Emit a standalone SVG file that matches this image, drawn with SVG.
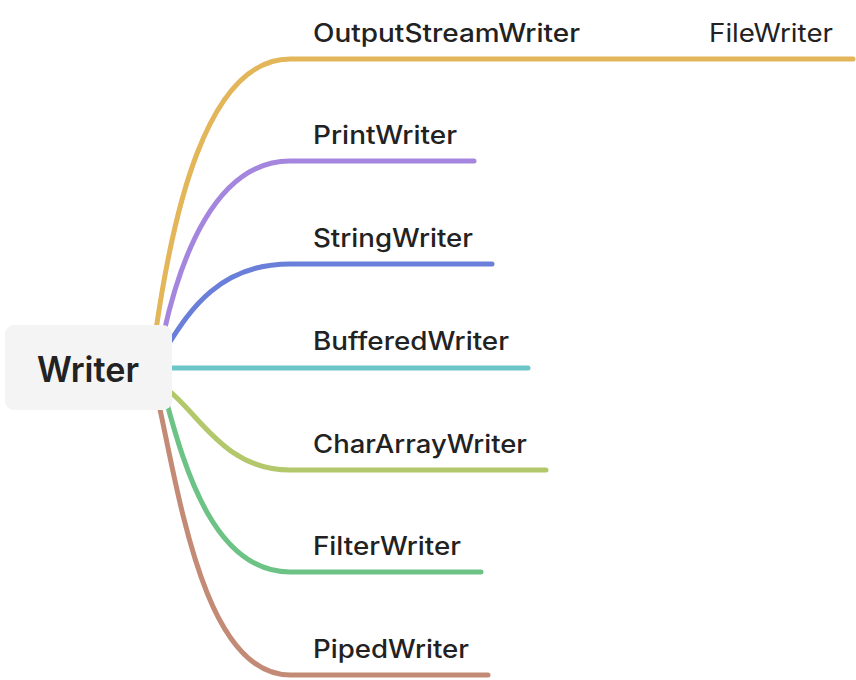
<svg xmlns="http://www.w3.org/2000/svg" width="856" height="680" viewBox="0 0 856 680">
<style>
.c{fill:none;stroke-width:5;stroke-linecap:round}
.t{font-family:Inter,"Liberation Sans","Noto Sans",sans-serif;font-size:25px;font-weight:500;fill:#222}
.f{font-family:Inter,"Liberation Sans","Noto Sans",sans-serif;font-size:25px;font-weight:400;fill:#222}
.r{font-family:Inter,"Liberation Sans","Noto Sans",sans-serif;font-size:35px;font-weight:600;fill:#222}
</style>
<rect width="856" height="680" fill="#fff"/>
<g id="connectors">
<path class="c" stroke="#e2b659" d="M156 330 C172 220 205 59 290 59 L853 59"/>
<path class="c" stroke="#a586df" d="M164 332 C180 260 215 161 290 161 L474 161"/>
<path class="c" stroke="#6a7fd9" d="M168 345 C190 310 220 264 290 264 L492 264"/>
<path class="c" stroke="#6cc6c9" d="M165 368 L528 368"/>
<path class="c" stroke="#b2c86b" d="M168 390 C200 415 225 470 290 470 L546 470"/>
<path class="c" stroke="#6dc285" d="M166 400 C185 470 215 572 290 572 L481 572"/>
<path class="c" stroke="#c38a76" d="M158 400 C180 500 205 675 290 675 L488 675"/>
</g>
<g id="root">
<rect x="5" y="325" width="167" height="85" rx="9" fill="#f4f4f4"/>
<text class="r" x="88" y="382" text-anchor="middle" textLength="102" lengthAdjust="spacingAndGlyphs">Writer</text>
</g>
<g id="n-outputstreamwriter"><text class="t" x="313" y="42" textLength="267" lengthAdjust="spacingAndGlyphs">OutputStreamWriter</text></g>
<g id="n-filewriter"><text class="f" x="709" y="42" textLength="124" lengthAdjust="spacingAndGlyphs">FileWriter</text></g>
<g id="n-printwriter"><text class="t" x="313" y="144" textLength="144" lengthAdjust="spacingAndGlyphs">PrintWriter</text></g>
<g id="n-stringwriter"><text class="t" x="313" y="247" textLength="160" lengthAdjust="spacingAndGlyphs">StringWriter</text></g>
<g id="n-bufferedwriter"><text class="t" x="313" y="350" textLength="196" lengthAdjust="spacingAndGlyphs">BufferedWriter</text></g>
<g id="n-chararraywriter"><text class="t" x="313" y="453" textLength="214" lengthAdjust="spacingAndGlyphs">CharArrayWriter</text></g>
<g id="n-filterwriter"><text class="t" x="313" y="555" textLength="148" lengthAdjust="spacingAndGlyphs">FilterWriter</text></g>
<g id="n-pipedwriter"><text class="t" x="313" y="658" textLength="156" lengthAdjust="spacingAndGlyphs">PipedWriter</text></g>
</svg>
